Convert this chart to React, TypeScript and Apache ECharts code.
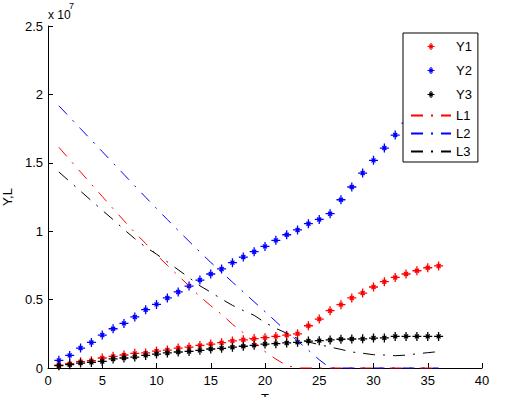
import React, { useEffect, useRef } from "react";
import * as echarts from "echarts";

// values are in units of 10^7
const T = [1, 2, 3, 4, 5, 6, 7, 8, 9, 10, 11, 12, 13, 14, 15, 16, 17, 18, 19, 20, 21, 22, 23, 24, 25, 26, 27, 28, 29, 30, 31, 32, 33, 34, 35, 36];
const Y1 = [0.020, 0.031, 0.046, 0.053, 0.073, 0.085, 0.095, 0.107, 0.110, 0.124, 0.131, 0.146, 0.153, 0.165, 0.175, 0.185, 0.198, 0.206, 0.215, 0.222, 0.231, 0.240, 0.250, 0.309, 0.358, 0.419, 0.463, 0.512, 0.548, 0.592, 0.631, 0.662, 0.687, 0.711, 0.733, 0.746];
const Y2 = [0.056, 0.092, 0.146, 0.187, 0.241, 0.287, 0.326, 0.373, 0.426, 0.465, 0.512, 0.556, 0.599, 0.643, 0.687, 0.724, 0.770, 0.811, 0.850, 0.889, 0.933, 0.974, 1.009, 1.055, 1.086, 1.128, 1.230, 1.323, 1.425, 1.518, 1.608, 1.703, 1.790, 1.880, 1.970, 2.060];
const Y3 = [0.017, 0.024, 0.036, 0.041, 0.048, 0.066, 0.073, 0.080, 0.092, 0.102, 0.110, 0.117, 0.121, 0.129, 0.139, 0.144, 0.152, 0.159, 0.166, 0.175, 0.178, 0.183, 0.188, 0.197, 0.200, 0.205, 0.210, 0.212, 0.213, 0.219, 0.220, 0.231, 0.231, 0.231, 0.231, 0.231];
const L1 = [1.613, 1.523, 1.433, 1.343, 1.254, 1.165, 1.077, 0.990, 0.910, 0.828, 0.750, 0.675, 0.600, 0.523, 0.455, 0.392, 0.320, 0.258, 0.190, 0.120, 0.065, 0.018, 0, 0, 0, 0, 0, 0, 0, 0, 0, 0, 0, 0, 0, 0];
const L2 = [1.917, 1.833, 1.749, 1.666, 1.582, 1.498, 1.415, 1.331, 1.248, 1.166, 1.085, 1.005, 0.926, 0.848, 0.772, 0.700, 0.628, 0.556, 0.484, 0.412, 0.340, 0.265, 0.198, 0.130, 0.060, 0, 0, 0, 0, 0, 0, 0, 0, 0, 0, 0];
const L3 = [1.433, 1.363, 1.293, 1.223, 1.153, 1.085, 1.013, 0.945, 0.884, 0.832, 0.776, 0.718, 0.661, 0.601, 0.554, 0.504, 0.458, 0.420, 0.385, 0.332, 0.290, 0.254, 0.216, 0.190, 0.171, 0.153, 0.136, 0.117, 0.108, 0.097, 0.095, 0.090, 0.094, 0.104, 0.112, 0.120];

const X_TICKS = { min: 0, max: 40, interval: 5 };
const Y_TICKS = { min: 0, max: 2.5, interval: 0.5 };
const EXPONENT_LABEL = "x 10";
const EXPONENT = "7";

const FONT = "'Liberation Sans', Arial, Helvetica, sans-serif";
const STAR = "path://M0,-4.5L0,4.5M-4.5,0L4.5,0M-2,-2L2,2M-2,2L2,-2";
const STAR_LEGEND = "path://M-7,-7M7,7M0,-3.5L0,3.5M-3.5,0L3.5,0M-1.8,-1.8L1.8,1.8M-1.8,1.8L1.8,-1.8";
const DASHDOT = [12, 8, 2, 8];

const pairs = (ys: number[]) => T.map((t, i) => [t, ys[i]]);

export default function App() {
  const ref = useRef<HTMLDivElement>(null);
  useEffect(() => {
    if (!ref.current) return;
    const chart = echarts.init(ref.current, undefined, { renderer: "svg" });
    const scatter = (name: string, ys: number[], color: string) => ({
      name,
      type: "scatter",
      data: pairs(ys),
      symbol: STAR,
      symbolSize: 9,
      itemStyle: { color: "none", borderColor: color, borderWidth: 1.3, opacity: 1 },
      emphasis: { disabled: true },
    });
    const line = (name: string, ys: number[], color: string) => ({
      name,
      type: "line",
      data: pairs(ys),
      symbol: "none",
      showSymbol: false,
      clip: false,
      lineStyle: { color, width: 1, type: DASHDOT },
      itemStyle: { color },
      emphasis: { disabled: true },
    });
    const legendStar = (name: string, color: string) => ({
      name,
      icon: STAR_LEGEND,
      itemStyle: { color: "none", borderColor: color, borderWidth: 1.2 },
    });
    const legendLine = (name: string) => ({
      name,
      itemStyle: { opacity: 0 },
    });
    chart.setOption({
      animation: false,
      textStyle: { fontFamily: FONT },
      grid: { left: 48, right: 30, top: 26, bottom: 29, containLabel: false, outerBoundsMode: "none" },
      xAxis: {
        type: "value",
        ...X_TICKS,
        name: "T",
        nameLocation: "middle",
        nameGap: 24,
        nameTextStyle: { color: "#000", fontSize: 13, fontFamily: FONT },
        axisLine: { lineStyle: { color: "#000", width: 1 } },
        axisTick: { inside: true, length: 5, lineStyle: { color: "#000" } },
        axisLabel: { color: "#000", fontSize: 13, margin: 6, fontFamily: FONT },
        splitLine: { show: false },
      },
      yAxis: {
        type: "value",
        ...Y_TICKS,
        name: "Y,L",
        nameLocation: "middle",
        nameGap: 32,
        nameTextStyle: { color: "#000", fontSize: 13, fontFamily: FONT },
        axisLine: { show: true, lineStyle: { color: "#000", width: 1 } },
        axisTick: { show: true, inside: true, length: 5, lineStyle: { color: "#000" } },
        axisLabel: { color: "#000", fontSize: 13, margin: 5, fontFamily: FONT },
        splitLine: { show: false },
      },
      legend: {
        orient: "vertical",
        left: 403,
        top: 33,
        padding: [4, 6, 4, 7],
        itemGap: 5,
        itemWidth: 40,
        itemHeight: 14,
        backgroundColor: "#fff",
        borderColor: "#000",
        borderWidth: 1,
        borderRadius: 0,
        selectedMode: false,
        textStyle: { color: "#000", fontSize: 13, fontFamily: FONT },
        data: [
          legendStar("Y1", "#ff0000"),
          legendStar("Y2", "#0000ff"),
          legendStar("Y3", "#000000"),
          legendLine("L1"),
          legendLine("L2"),
          legendLine("L3"),
        ],
      },
      graphic: [
        {
          type: "text",
          left: 48,
          top: 9,
          style: { text: EXPONENT_LABEL, font: `12px ${FONT}`, fill: "#000" },
        },
        {
          type: "text",
          left: 69,
          top: 1,
          style: { text: EXPONENT, font: `9px ${FONT}`, fill: "#000" },
        },
      ],
      series: [
        scatter("Y1", Y1, "#ff0000"),
        scatter("Y2", Y2, "#0000ff"),
        scatter("Y3", Y3, "#000000"),
        line("L1", L1, "#ff0000"),
        line("L2", L2, "#0000ff"),
        line("L3", L3, "#000000"),
      ],
    });
    return () => chart.dispose();
  }, []);
  return (
    <div
      ref={ref}
      style={{ position: "fixed", left: 0, top: 0, width: 512, height: 397, background: "#fff" }}
    />
  );
}
